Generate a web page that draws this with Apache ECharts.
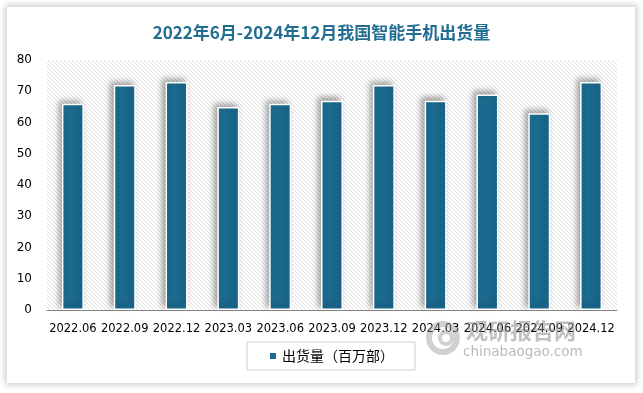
<!DOCTYPE html>
<html>
<head>
<meta charset="utf-8">
<script src="https://cdn.jsdelivr.net/npm/echarts@6/dist/echarts.min.js"></script>
<style>
html,body{margin:0;padding:0;background:#fff;}
#panel{position:absolute;left:7px;top:7px;width:628px;height:376px;background:#fff;box-shadow:0 0 6px 2px rgba(0,0,0,0.2);}
#chart{position:absolute;left:0;top:0;width:643px;height:393px;}
</style>
</head>
<body>
<div id="panel"></div>
<div id="chart"></div>
<script>
const titleText = '2022年6月-2024年12月我国智能手机出货量';
const categories = ['2022.06','2022.09','2022.12','2023.03','2023.06','2023.09','2023.12','2024.03','2024.06','2024.09','2024.12'];
const shipments = [66, 72, 73, 65, 66, 67, 72, 67, 69, 63, 73];
const seriesName = '出货量（百万部）';
const yTicks = [0, 10, 20, 30, 40, 50, 60, 70, 80];

function hatch() {
  const c = document.createElement('canvas');
  c.width = 4; c.height = 4;
  const g = c.getContext('2d');
  g.fillStyle = '#ffffff';
  g.fillRect(0, 0, 4, 4);
  g.strokeStyle = '#dadada';
  g.lineWidth = 0.9;
  g.beginPath();
  g.moveTo(-1, -1); g.lineTo(5, 5);
  g.moveTo(-1, 3); g.lineTo(1, 5);
  g.moveTo(3, -1); g.lineTo(5, 1);
  g.stroke();
  return c;
}

const chart = echarts.init(document.getElementById('chart'), null, {renderer: 'canvas'});
chart.setOption({
  animation: false,
  title: {
    text: titleText,
    left: 'center',
    top: 19,
    textStyle: {
      fontFamily: "'Liberation Sans Narrow','Noto Sans CJK SC',sans-serif",
      fontSize: 17,
      fontWeight: 'bold',
      color: '#226E92'
    }
  },
  grid: {
    left: 47, right: 26, top: 60, bottom: 83,
    show: true,
    borderWidth: 0,
    backgroundColor: {image: hatch(), repeat: 'repeat'}
  },
  legend: {
    left: 247,
    top: 342,
    padding: [7, 21],
    borderColor: '#d0d0d0',
    borderWidth: 1,
    itemWidth: 8,
    itemHeight: 8,
    itemGap: 5,
    icon: 'rect',
    textStyle: {
      fontFamily: "'Noto Sans CJK SC',sans-serif",
      fontSize: 14,
      color: '#000'
    },
    data: [seriesName]
  },
  xAxis: {
    type: 'category',
    data: categories,
    axisLine: {show: true, lineStyle: {color: '#888', width: 1}},
    axisTick: {show: false},
    axisLabel: {
      interval: 0,
      margin: 13,
      color: '#000',
      fontFamily: "'DejaVu Sans',sans-serif",
      fontSize: 11.5
    }
  },
  yAxis: {
    type: 'value',
    min: yTicks[0],
    max: yTicks[yTicks.length - 1],
    interval: yTicks[1] - yTicks[0],
    axisLine: {show: false},
    axisTick: {show: false},
    splitLine: {show: false},
    axisLabel: {
      margin: 15,
      color: '#000',
      fontFamily: "'DejaVu Sans',sans-serif",
      fontSize: 12
    }
  },
  series: [{
    name: seriesName,
    type: 'bar',
    data: shipments,
    barWidth: 22,
    itemStyle: {
      color: '#1B6A8F',
      borderColor: '#ffffff',
      borderWidth: 1.5,
      shadowBlur: 6,
      shadowColor: 'rgba(0,0,0,0.35)',
      shadowOffsetX: -3,
      shadowOffsetY: -3
    }
  }],
  graphic: [
    {type: 'ring', shape: {cx: 443, cy: 338, r: 17, r0: 11}, style: {fill: 'rgba(150,150,150,0.45)'}, z: 100},
    {type: 'ring', shape: {cx: 446, cy: 338, r: 8, r0: 4}, style: {fill: 'rgba(150,150,150,0.45)'}, z: 100},
    {type: 'text', left: 466, top: 320, style: {text: '观研报告网', font: "bold 22px 'Noto Sans CJK SC'", fill: 'rgba(140,140,140,0.55)'}, z: 100},
    {type: 'text', left: 463, top: 345, style: {text: 'chinabaogao.com', font: "13.5px 'DejaVu Sans'", fill: 'rgba(140,140,140,0.6)'}, z: 100}
  ]
});
</script>
</body>
</html>
